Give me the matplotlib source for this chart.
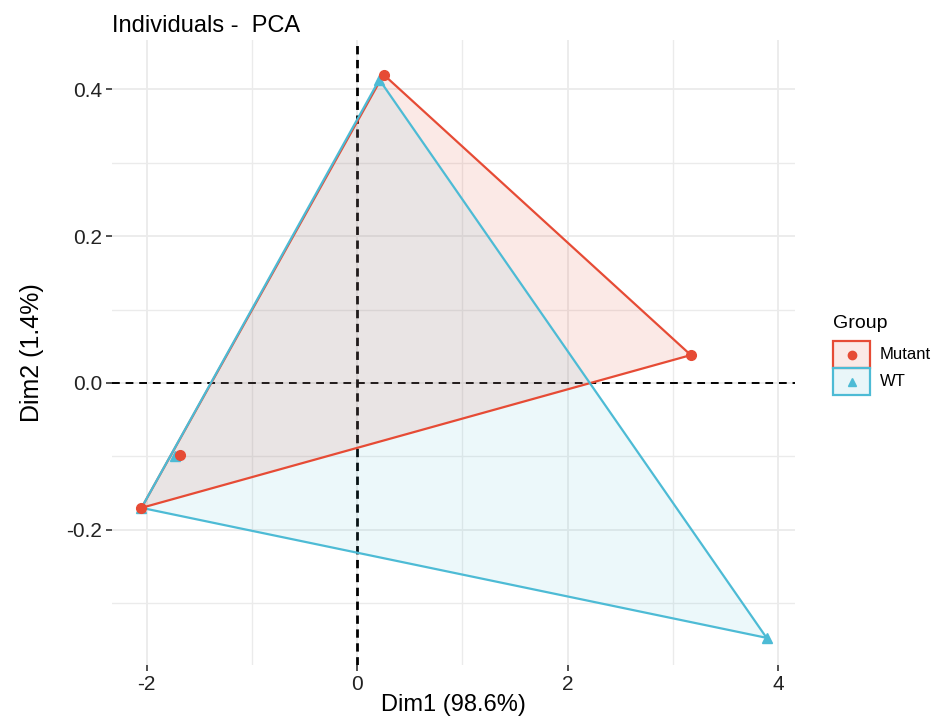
import matplotlib
matplotlib.use("Agg")
import matplotlib.pyplot as plt
import numpy as np
from matplotlib.patches import Polygon, Rectangle
from matplotlib.lines import Line2D

plt.rcParams["font.family"] = ["Liberation Sans", "DejaVu Sans"]
plt.rcParams["axes.unicode_minus"] = False

# individuals on the first two principal components
groups = ["Mutant", "WT"]
mutant_dim1 = [0.25, 3.17, -1.68, -2.05]
mutant_dim2 = [0.420, 0.038, -0.098, -0.170]
wt_dim1 = [0.21, 3.89, -1.73, -2.05]
wt_dim2 = [0.413, -0.347, -0.100, -0.170]

x_ticks = [-2, 0, 2, 4]
y_ticks = [-0.2, 0.0, 0.2, 0.4]
x_tick_labels = ["-2", "0", "2", "4"]
y_tick_labels = ["-0.2", "0.0", "0.2", "0.4"]

colors = {"Mutant": "#E64B35", "WT": "#4DBBD5"}
markers = {"Mutant": "o", "WT": "^"}
fill_alpha = {"Mutant": 0.12, "WT": 0.10}


def convex_hull(xs, ys):
    pts = sorted(set(zip(xs, ys)))

    def cross(o, a, b):
        return (a[0] - o[0]) * (b[1] - o[1]) - (a[1] - o[1]) * (b[0] - o[0])

    lower, upper = [], []
    for p in pts:
        while len(lower) >= 2 and cross(lower[-2], lower[-1], p) <= 0:
            lower.pop()
        lower.append(p)
    for p in reversed(pts):
        while len(upper) >= 2 and cross(upper[-2], upper[-1], p) <= 0:
            upper.pop()
        upper.append(p)
    return np.array(lower[:-1] + upper[:-1])


data = {"Mutant": (mutant_dim1, mutant_dim2), "WT": (wt_dim1, wt_dim2)}

fig = plt.figure(figsize=(9.47, 7.17), dpi=100)
ax = fig.add_axes([0.1183, 0.0725, 0.7212, 0.8717])

# hull fills first, then outlines, then points
for g in groups:
    hull = convex_hull(*data[g])
    ax.add_patch(Polygon(hull, closed=True, facecolor=colors[g],
                         alpha=fill_alpha[g], edgecolor="none", zorder=2))
for g in groups:
    hull = convex_hull(*data[g])
    ax.add_patch(Polygon(hull, closed=True, facecolor="none",
                         edgecolor=colors[g], linewidth=1.6, zorder=3))
for g in ["WT", "Mutant"]:
    xs, ys = data[g]
    ax.plot(xs, ys, linestyle="none", marker=markers[g], markersize=7,
            color=colors[g], zorder=4)

ax.axhline(0, color="black", linewidth=1.4, dashes=(4, 3), zorder=1.5)
ax.axvline(0, color="black", linewidth=2.0, dashes=(3, 2), zorder=1.5)

ax.set_xlim(-2.33, 4.16)
ax.set_ylim(-0.384, 0.467)

ax.set_xticks(x_ticks)
ax.set_xticklabels(x_tick_labels)
ax.set_yticks(y_ticks)
ax.set_yticklabels(y_tick_labels)
ax.set_xticks([-1, 1, 3], minor=True)
ax.set_yticks([-0.3, -0.1, 0.1, 0.3], minor=True)

ax.grid(True, which="major", color="#EBEBEB", linewidth=1.3, zorder=0)
ax.grid(True, which="minor", color="#EBEBEB", linewidth=1.0, zorder=0)
ax.set_axisbelow(True)
for s in ax.spines.values():
    s.set_visible(False)
ax.tick_params(which="major", length=4, width=1.2, color="#333333",
               labelsize=15, labelcolor="#222222", pad=3)
ax.tick_params(which="minor", length=0)

ax.set_xlabel("Dim1 (98.6%)", fontsize=17, labelpad=0)
ax.set_ylabel("Dim2 (1.4%)", fontsize=18, labelpad=16)
ax.set_title("Individuals -  PCA", fontsize=17, loc="left", pad=6)

# legend drawn as separate keyed boxes
W, H = 947, 717
fig.text(833 / W, 1 - 323 / H, "Group", fontsize=14, va="center", ha="left")
key_top = 341
key_h = 27
for i, g in enumerate(groups):
    top = key_top + i * key_h
    fig.add_artist(Rectangle((833 / W, 1 - (top + key_h) / H), 37 / W, key_h / H,
                             transform=fig.transFigure, facecolor=colors[g],
                             alpha=0.12, edgecolor="none"))
    fig.add_artist(Rectangle((833 / W, 1 - (top + key_h) / H), 37 / W, key_h / H,
                             transform=fig.transFigure, facecolor="none",
                             edgecolor=colors[g], linewidth=1.6))
    cy = 1 - (top + key_h / 2) / H
    fig.add_artist(Line2D([851.5 / W], [cy], transform=fig.transFigure,
                          marker=markers[g], markersize=6, color=colors[g],
                          linestyle="none"))
    fig.text(880 / W, cy, g, fontsize=12, va="center", ha="left")

fig.savefig("out.png", dpi=100)
